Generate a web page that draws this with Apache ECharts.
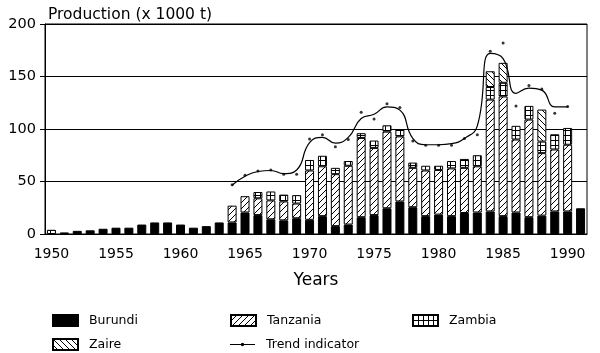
<!DOCTYPE html>
<html>
<head>
<meta charset="utf-8">
<script src="https://cdn.jsdelivr.net/npm/echarts@6/dist/echarts.min.js"></script>
<style>
  html, body { margin: 0; background: #fff; }
  #main { width: 600px; height: 353px; }
</style>
</head>
<body>
<div id="main"></div>
<script>
// years on the x axis
var years = ['1950','1951','1952','1953','1954','1955','1956','1957','1958','1959',
  '1960','1961','1962','1963','1964','1965','1966','1967','1968','1969',
  '1970','1971','1972','1973','1974','1975','1976','1977','1978','1979',
  '1980','1981','1982','1983','1984','1985','1986','1987','1988','1989',
  '1990','1991'];

// production, x 1000 t (1950 ... 1991)
var burundi = [null,1.5,3,3.5,5,6,6,9,11,11,
  9,6,7.5,11,11,20.5,18,14,13,15,
  13.5,17,7.5,9,16,18,24.5,31,25.5,17,
  18.5,17,20,20.5,21.5,17,20.5,16,17.5,21.5,
  21.5,24.5];
var tanzania = [null,null,null,null,null,null,null,null,null,null,
  null,null,null,null,16,15.5,16,18,18,14,
  47,47.5,49.5,56,75.5,64,73,62,37.5,43.5,
  42.5,45.5,43,44,106.5,114,69.5,93,59.5,59,
  63.5,null];
var zambia = [4,null,null,null,null,null,null,null,null,null,
  null,null,null,null,null,null,6,8.5,6.5,8,
  10,10,6,4.5,4.5,7,6,6.5,5,4.5,
  4,7,8.5,10.5,12,13,13,13,11,14.5,
  16,null];
var zaire = [null,null,null,null,null,null,null,null,null,null,
  null,null,null,null,null,null,null,null,null,null,
  null,null,null,null,null,null,null,null,null,null,
  null,null,null,null,15,19,null,null,30.5,null,
  null,null];

// trend indicator: yearly points and the smoothed curve
var trendPoints = [null,null,null,null,null,null,null,null,null,null,
  null,null,null,null,47,56,60,61,57,57,
  90.5,94.5,83,90,116,109.5,124,120.5,88.5,84.5,
  84.5,84.5,91,94.5,174,182,122,141.5,138,115,
  121.5,null];
var trendCurve = [null,null,null,null,null,null,null,null,null,null,
  null,null,null,null,46.5,55,59.5,60.5,57.5,61,
  87,92,86.5,92,110,114,121,118,91,85,
  85,86,91,103,172,167,134,139,137,121,
  121,null];

var yTicks = [0, 50, 100, 150, 200];

var font = 'DejaVu Sans';

// hatch fills
function hatch(kind) {
  var s = kind == 'grid' ? 5 : 6;
  var c = document.createElement('canvas');
  c.width = s; c.height = s;
  var g = c.getContext('2d');
  g.fillStyle = '#fff';
  g.fillRect(0, 0, s, s);
  g.strokeStyle = '#000';
  g.lineWidth = 1;
  g.beginPath();
  if (kind == '/') {
    g.moveTo(-1, s + 1); g.lineTo(s + 1, -1);
    g.moveTo(-1, 1); g.lineTo(1, -1);
    g.moveTo(s - 1, s + 1); g.lineTo(s + 1, s - 1);
  } else if (kind == '\\') {
    g.moveTo(-1, -1); g.lineTo(s + 1, s + 1);
    g.moveTo(s - 1, -1); g.lineTo(s + 1, 1);
    g.moveTo(-1, s - 1); g.lineTo(1, s + 1);
  } else {
    g.moveTo(0.5, 0); g.lineTo(0.5, s);
    g.moveTo(0, 0.5); g.lineTo(s, 0.5);
  }
  g.stroke();
  return { image: c, repeat: 'repeat' };
}

function barSeries(name, data, fill) {
  return {
    name: name,
    type: 'bar',
    stack: 'total',
    barWidth: 9,
    data: data,
    itemStyle: { color: fill, borderColor: '#000', borderWidth: 1 }
  };
}

// thin line with a small solid dot, for the trend legend entry
var trendIcon = 'path://M0,1.5 L25,1.5 L25,2.5 L0,2.5 Z M10.8,2 A1.7,1.7 0 1,1 14.2,2 A1.7,1.7 0 1,1 10.8,2 Z';

function legendAt(name, left, top) {
  var isTrend = name == 'Trend indicator';
  var lg = {
    data: [name],
    left: left,
    top: top,
    icon: isTrend ? trendIcon : 'rect',
    itemWidth: 25,
    itemHeight: isTrend ? 3.4 : 11,
    selectedMode: false,
    textStyle: { fontFamily: font, fontSize: 12.5, color: '#000', padding: [0, 0, 0, 6] }
  };
  if (isTrend) {
    lg.itemStyle = { color: '#000', borderColor: '#000', borderWidth: 0 };
    lg.lineStyle = { width: 0 };
  }
  return lg;
}

var chart = echarts.init(document.getElementById('main'));
var option = {
  animation: false,
  backgroundColor: '#fff',
  title: {
    text: 'Production (x 1000 t)',
    left: 43,
    top: 2,
    textStyle: { fontFamily: font, fontSize: 15.5, fontWeight: 'normal', color: '#000' }
  },
  legend: [
    legendAt('Burundi', 47, 309),
    legendAt('Tanzania', 225, 309),
    legendAt('Zambia', 407, 309),
    legendAt('Zaire', 47, 333),
    legendAt('Trend indicator', 225, 333)
  ],
  grid: {
    left: 45, right: 13, top: 24, bottom: 119,
    show: true, borderColor: '#000', borderWidth: 1
  },
  xAxis: {
    type: 'category',
    data: years,
    name: 'Years',
    nameLocation: 'middle',
    nameGap: 38,
    nameTextStyle: { fontFamily: font, fontSize: 17, color: '#000' },
    axisLine: { lineStyle: { color: '#000', width: 1 } },
    axisTick: { alignWithLabel: true, interval: 0, length: 5, lineStyle: { color: '#000' } },
    axisLabel: { interval: 4, fontFamily: font, fontSize: 14, color: '#000', margin: 13 }
  },
  yAxis: {
    type: 'value',
    min: yTicks[0],
    max: yTicks[yTicks.length - 1],
    interval: 50,
    axisLine: { show: true, lineStyle: { color: '#000', width: 1 } },
    axisTick: { show: true, length: 5, lineStyle: { color: '#000' } },
    axisLabel: { fontFamily: font, fontSize: 14.5, color: '#000', margin: 9 },
    splitLine: { lineStyle: { color: '#000', width: 1 } }
  },
  series: [
    barSeries('Burundi', burundi, '#000'),
    barSeries('Tanzania', tanzania, hatch('/')),
    barSeries('Zambia', zambia, hatch('grid')),
    barSeries('Zaire', zaire, hatch('\\')),
    {
      name: 'Trend indicator',
      type: 'line',
      data: trendCurve,
      smooth: true,
      symbol: 'circle',
      symbolSize: 3,
      showSymbol: false,
      z: 5,
      lineStyle: { color: '#000', width: 1.2 },
      itemStyle: { color: '#000' }
    },
    {
      name: 'points',
      type: 'scatter',
      data: trendPoints,
      symbolSize: 3,
      z: 6,
      itemStyle: { color: '#000' }
    }
  ]
};
chart.setOption(option);
</script>
</body>
</html>
